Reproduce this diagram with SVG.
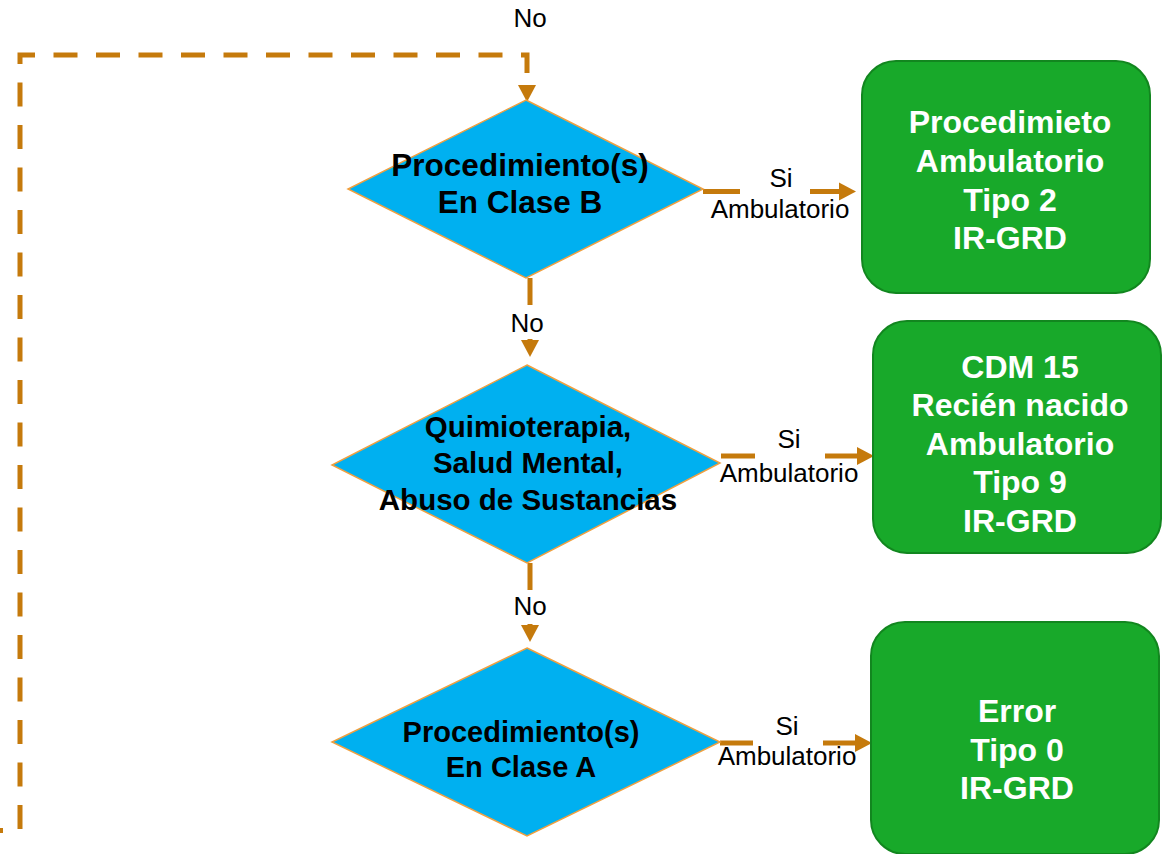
<svg xmlns="http://www.w3.org/2000/svg" width="1164" height="854" viewBox="0 0 1164 854">
<style>
.dia{fill:#00B0F0;stroke:#F0A040;stroke-width:1.5}
.box{fill:#18A92A;stroke:#12861F;stroke-width:2}
.dt{font-family:"Liberation Sans",Arial,sans-serif;font-weight:bold;fill:#000;text-anchor:middle}
.bt{font-family:"Liberation Sans",Arial,sans-serif;font-weight:bold;font-size:32px;fill:#fff;text-anchor:middle}
.lb{font-family:"Liberation Sans",Arial,sans-serif;font-size:26px;fill:#000;text-anchor:middle}
.con{fill:none;stroke:#C57A0C;stroke-width:5}
</style>
<defs>
<marker id="arr" markerUnits="userSpaceOnUse" markerWidth="18" markerHeight="18" refX="1" refY="9" orient="auto-start-reverse" overflow="visible">
<path d="M0,0 L17,9 L0,18 z" fill="#C57A0C"/>
</marker>
</defs>
<g id="connectors">
<path class="con" d="M527 86 L527 55 L20 55 L20 830.5 L-60 830.5" stroke-dasharray="24 18.5" stroke-dashoffset="29.5" marker-start="url(#arr)"/>
<path class="con" d="M703 191.5 L740 191.5 M810 191.5 L840 191.5" marker-end="url(#arr)"/>
<path class="con" d="M530 278 L530 305 M530 339 L530 341" marker-end="url(#arr)"/>
<path class="con" d="M721 456 L755 456 M825 456 L858 456" marker-end="url(#arr)"/>
<path class="con" d="M530 563 L530 590 M530 624 L530 626" marker-end="url(#arr)"/>
<path class="con" d="M720 743 L753 743 M823 743 L856 743" marker-end="url(#arr)"/>
<text class="lb" x="530" y="27">No</text>
<text class="lb" x="781" y="187">Si</text>
<text class="lb" x="780" y="218">Ambulatorio</text>
<text class="lb" x="527" y="332">No</text>
<text class="lb" x="789" y="448">Si</text>
<text class="lb" x="789" y="482">Ambulatorio</text>
<text class="lb" x="530" y="615">No</text>
<text class="lb" x="787" y="735">Si</text>
<text class="lb" x="787" y="765">Ambulatorio</text>
</g>
<g id="d1">
<polygon class="dia" points="526,100 703,189 526,278 348,189"/>
<text class="dt" style="font-size:31.5px" x="520" y="176">Procedimiento(s)</text>
<text class="dt" style="font-size:31.5px" x="520" y="213">En Clase B</text>
</g>
<g id="d2">
<polygon class="dia" points="527,365 720,463 527,563 332,465"/>
<text class="dt" style="font-size:29.5px" x="528" y="437">Quimioterapia,</text>
<text class="dt" style="font-size:29.5px" x="528" y="473">Salud Mental,</text>
<text class="dt" style="font-size:29.5px" x="528" y="510">Abuso de Sustancias</text>
</g>
<g id="d3">
<polygon class="dia" points="527,648 720,742 527,836 332,742"/>
<text class="dt" style="font-size:29px" x="521" y="742">Procedimiento(s)</text>
<text class="dt" style="font-size:29px" x="521" y="777">En Clase A</text>
</g>
<g id="b1">
<rect class="box" x="862" y="61" width="288" height="232" rx="34"/>
<text class="bt" x="1010" y="133">Procedimieto</text>
<text class="bt" x="1010" y="172">Ambulatorio</text>
<text class="bt" x="1010" y="211">Tipo 2</text>
<text class="bt" x="1010" y="249">IR-GRD</text>
</g>
<g id="b2">
<rect class="box" x="873" y="321" width="288" height="232" rx="34"/>
<text class="bt" x="1020" y="378">CDM 15</text>
<text class="bt" x="1020" y="416">Recién nacido</text>
<text class="bt" x="1020" y="455">Ambulatorio</text>
<text class="bt" x="1020" y="493">Tipo 9</text>
<text class="bt" x="1020" y="532">IR-GRD</text>
</g>
<g id="b3">
<rect class="box" x="871" y="622" width="288" height="232" rx="34"/>
<text class="bt" x="1017" y="722">Error</text>
<text class="bt" x="1017" y="761">Tipo 0</text>
<text class="bt" x="1017" y="799">IR-GRD</text>
</g>
</svg>
